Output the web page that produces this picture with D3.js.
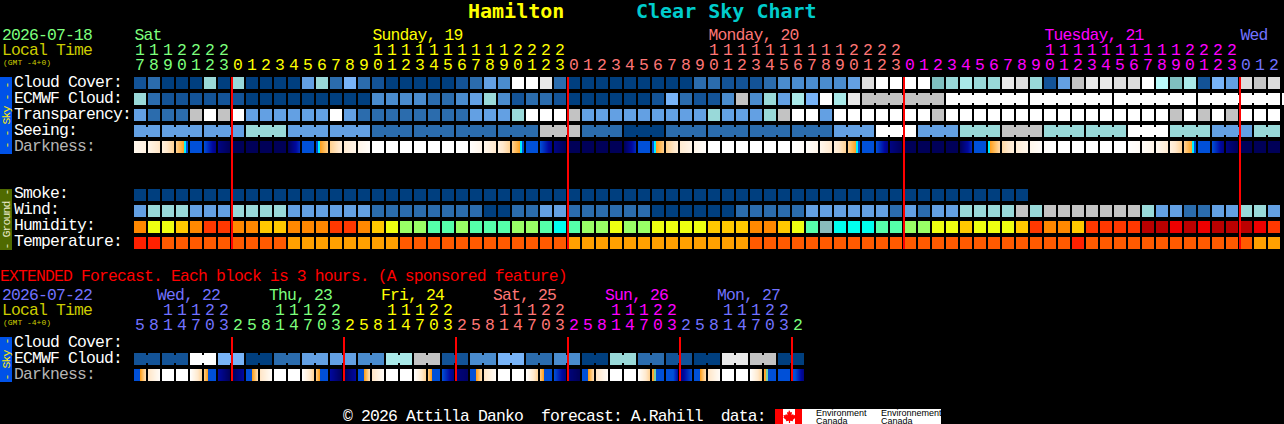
<!DOCTYPE html>
<html><head><meta charset="utf-8">
<script src="https://cdn.jsdelivr.net/npm/d3@7"></script>
<style>
html,body{margin:0;padding:0;background:#000;overflow:hidden}
svg{display:block}
text{font-family:"Liberation Mono",monospace;white-space:pre}
text.bold{font-family:"DejaVu Sans Mono",monospace;font-weight:bold}
</style></head><body>
<svg id="c" width="1284" height="424"></svg>
<script>
// ---------- data (levels) ----------
const cloudCover=[1,2,0,0,0,7,0,7,0,0,0,0,4,7,2,5,2,1,0,0,0,
 0,0,1,2,4,3,13,13,12,2,0,0,0,0,0,0,0,0,0,2,2,1,1,1,2,3,3,3,3,3,4,
 11,13,13,13,13,6,7,8,7,7,12,11,7,1,4,10,12,12,11,11,13,9,6,8,1,5,4,11,10,11];
const ecmwfCloud=[7,2,1,1,1,1,1,1,0,0,0,0,0,0,0,0,0,3,3,3,3,
 2,2,3,4,7,3,1,2,2,1,0,0,0,0,0,0,1,5,2,1,1,3,10,3,7,4,8,5,13,8,12,
 10,10,10,10,10,10,13,13,13,13,13,13,13,13,13,13,13,13,13,13,13,13,13,13,13,13,13,13,13,13,13,13];
const transparency=[4,2,2,2,10,13,10,13,4,4,4,4,4,4,13,4,2,2,2,2,2,
 2,2,2,4,4,4,7,13,13,13,10,4,4,4,4,4,4,4,4,4,7,4,4,4,7,10,13,13,4,13,13,
 13,13,13,13,13,10,13,13,13,13,13,13,13,13,13,13,13,13,13,13,13,13,10,13,10,13,10,13,13,13];
const seeingBlocks=[4,4,4,7,4,4,2,2,2,2,10,2,0,2,2,2,2,4,13,4,7,10,7,7,13,7,4,7];
const smoke=[0,0,0,0,0,0,0,0,0,0,0,0,0,0,0,0,0,0,0,0,0,0,0,0,0,0,0,0,0,0,0,0,
 0,0,0,0,0,0,0,0,0,0,0,0,0,0,0,0,0,0,0,0,0,0,0,0,0,0,0,0,0,0,0,0];
const wind=[4,7,7,7,4,4,4,7,7,7,7,4,4,4,4,4,4,2,2,2,2,
 2,2,2,2,0,0,2,2,4,4,2,2,2,2,2,2,0,0,0,0,0,0,2,2,2,2,2,4,4,4,4,
 4,4,2,4,2,4,4,7,7,7,7,10,7,10,10,10,10,10,10,10,7,4,4,2,2,4,4,7,7,4];
const humidity=[3,5,5,4,3,2,2,3,3,4,4,3,3,3,2,2,3,4,5,6,6,
 7,7,6,7,7,7,6,6,7,8,7,6,6,5,6,6,5,5,5,5,4,4,4,3,3,4,5,7,9,8,8,
 8,7,7,6,6,5,5,4,5,5,5,4,2,3,3,4,2,2,2,2,0,0,1,0,1,0,0,0,1,2];
const temperature=[0,0,1,1,1,1,1,1,1,1,1,2,2,2,2,2,2,2,2,1,1,
 1,1,1,1,1,1,1,1,1,1,2,2,2,2,2,2,2,2,2,2,2,2,2,1,1,1,1,1,1,1,1,
 1,1,1,1,1,1,1,1,1,1,1,1,1,1,1,0,1,1,1,1,1,1,1,1,1,1,1,1,2,2];
const darkness=[[.7,1.2],[.9,2.2],[1.3,3],[3,5.3],[5.3,8],[8,9.4],[9.4,10],[10,10],[10,10],[10,10],[10,10],[10,8.5],[8,5.4],[5.4,3.1],[3.1,1.6],[1.8,.9],[.9,.2],
 [0,0],[0,0],[0,0],[0,0],[0,0],[0,0],[0,0],[.1,.9],[.7,2],[1.3,3],[3,5.3],[5.3,8],[8,9.4],[9.4,10],[10,10],[10,10],[10,10],[10,10],[10,8.5],[8,5.4],[5.4,3.1],[3.1,1.6],[1.8,.9],[.9,.2],
 [0,0],[0,0],[0,0],[0,0],[0,0],[0,0],[0,.3],[.2,.9],[.7,2],[1.3,3],[3,5.3],[5.3,8],[8,9.4],[9.4,10],[10,10],[10,10],[10,10],[10,10],[10,8.5],[8,5.4],[5,2.7],[2.7,1.4],[1.6,.8],[.8,.2],
 [.2,0],[0,0],[0,0],[0,0],[0,0],[0,0],[0,.4],[.3,.9],[.6,1.8],[1.2,3],[3,5.3],[5.3,8],[8,9.4],[9.4,10],[10,10],[10,10],[10,10]];
const extEcmwfBlocks=[1,1,13,5,0,2,4,4,3,8,10,1,3,5,2,3,0,7,2,1,0,12,10,0];
const extDarkness=[[7.08,2.4],[2.2,.3],[0,0],[0,0],[0,3],[3.15,7.95],[9,10],[10,9],
 [7.08,2.4],[2.2,.3],[0,0],[0,0],[0,3],[3.15,7.95],[9,10],[10,9],
 [7.08,2.4],[2.2,.3],[0,0],[0,0],[0,3],[3.15,7.95],[8,9.5],[9.5,9.8],
 [7.08,2.4],[2.2,.3],[0,0],[0,0],[0,3],[3.15,7.95],[8,9.5],[9.5,10],
 [7.08,2.4],[2.2,.3],[0,0],[0,0],[0,3],[4.17,6.45],[6.5,9],[9.5,8],
 [7.08,2.4],[2.2,.3],[0,0],[0,0],[0,3],[4.17,6.45],[5,8],[7.5,9.5]];

const mainHours=[17,18,19,20,21,22,23,0,1,2,3,4,5,6,7,8,9,10,11,12,13,14,15,16,17,18,19,20,21,22,23,
 0,1,2,3,4,5,6,7,8,9,10,11,12,13,14,15,16,17,18,19,20,21,22,23,
 0,1,2,3,4,5,6,7,8,9,10,11,12,13,14,15,16,17,18,19,20,21,22,23,0,1,2];
const extHours=[5,8,11,14,17,20,23,2,5,8,11,14,17,20,23,2,5,8,11,14,17,20,23,2,
 5,8,11,14,17,20,23,2,5,8,11,14,17,20,23,2,5,8,11,14,17,20,23,2];
const mainDayBreaks=[7,31,55,79];
const extDayBreaks=[7,15,23,31,39,47];
const dayColors=["#7dff7d","#ffff00","#ff7676","#ff00ff","#7272ff"];
const extDayColors=["#7272ff","#7dff7d","#ffff00","#ff7676","#ff00ff","#7272ff","#7dff7d"];
const mainDayLabels=[["Sat",0],["Sunday, 19",17],["Monday, 20",41],["Tuesday, 21",65],["Wed",79]];
const extDayLabels=["Wed, 22","Thu, 23","Fri, 24","Sat, 25","Sun, 26","Mon, 27"];
const mainRows=["Cloud Cover:","ECMWF Cloud:","Transparency:","Seeing:","Darkness:"];
const groundRows=["Smoke:","Wind:","Humidity:","Temperature:"];
const extRows=["Cloud Cover:","ECMWF Cloud:","Darkness:"];

// ---------- scales ----------
const N=82, PITCH=14, CELL=12;
const x=d3.scaleLinear().domain([0,N]).range([134,134+PITCH*N]);
const skyColor=d3.scaleOrdinal(d3.range(14),["#003f7f","#135397","#2b6cad","#4a8cce","#63a0e3","#78b4f8","#7fbfbf","#99d9d9","#a9e9e9","#b9fbfb","#c3c3c3","#dddddd","#e9e9e9","#ffffff"]);
const humColor=d3.scaleOrdinal(d3.range(10),["#bb0000","#ee0000","#ff3800","#ff8800","#ffc800","#eeff11","#99ff66","#55ffaa","#00ffee","#88bbbb"]);
const tempColor=d3.scaleOrdinal([0,1,2],["#ff2000","#ff5a00","#ffa000"]);
const darkDomain=[0,1,2,3,4,4.555,4.56,4.93,4.934,8,9,10];
const darkRange=c=>["#ffffff","#fff4e6","#ffe8cc","#ffd294","#ffb347","#ffa020",c,c,"#0050d8","#0050d8","#0008a0","#000058"];
const darkColor=d3.scaleLinear().domain(darkDomain).range(darkRange("#00f0ff")).clamp(true);
const extDarkColor=d3.scaleLinear().domain(darkDomain).range(darkRange("#78d0a0")).clamp(true);

const svg=d3.select("#c");
svg.append("rect").attr("width",1284).attr("height",424).attr("fill","#000");

function label(t,px,py,col,size,cls){
  const s=svg.append("text").attr("x",px).attr("y",py).attr("fill",col).attr("xml:space","preserve").text(t);
  if(cls) s.attr("class",cls);
  if(size) s.attr("font-size",size);
  else s.attr("font-size",16.4).attr("letter-spacing","-0.84");
  return s;
}
function row(vals,top,color,bridge){
  const g=svg.append("g").attr("shape-rendering","crispEdges");
  g.selectAll(".c").data(vals).join("rect").attr("class","c")
    .attr("x",(d,i)=>x(i)).attr("y",top).attr("width",CELL).attr("height",CELL).attr("fill",d=>color(d));
  if(bridge){
    const pts=d3.range(vals.length-1).filter(bridge);
    g.selectAll(".b").data(pts).join("rect").attr("class","b")
      .attr("x",i=>x(i)+CELL).attr("y",top+2).attr("width",PITCH-CELL).attr("height",CELL-4).attr("fill",i=>color(vals[i]));
  }
}
function darkRow(vals,top,scale){
  const g=svg.append("g").attr("shape-rendering","crispEdges");
  vals.forEach((p,i)=>{
    g.selectAll(null).data(d3.range(CELL)).join("rect")
      .attr("x",k=>x(i)+k).attr("y",top).attr("width",1).attr("height",CELL)
      .attr("fill",k=>scale(p[0]+(p[1]-p[0])*(k+.5)/CELL));
  });
}
function sideBar(top,h,fill,txtCol,t){
  svg.append("rect").attr("x",0).attr("y",top).attr("width",12).attr("height",h).attr("fill",fill).attr("shape-rendering","crispEdges");
  svg.append("text").attr("transform",`translate(9.5,${top+h/2}) rotate(-90)`).attr("text-anchor","middle")
    .attr("fill",txtCol).attr("font-size",11.5).attr("letter-spacing","-0.9").attr("xml:space","preserve").text(t);
}
function hourLabels(hours,breaks,colors,yTens,yUnits){
  const colOf=i=>colors[d3.bisectRight(breaks,i)];
  hours.forEach((h,i)=>{
    if(h>=10) label(String(Math.floor(h/10)),x(i)+1,yTens,colOf(i));
    label(String(h%10),x(i)+1,yUnits,colOf(i));
  });
}
function redLines(cols,top,bottom){
  svg.append("g").attr("shape-rendering","crispEdges").selectAll("rect").data(cols).join("rect")
    .attr("x",c=>x(c)-1).attr("y",top).attr("width",2).attr("height",bottom-top).attr("fill","#ff0000");
}

// ---------- title ----------
label("Hamilton",468,18,"#ffff00",20,"bold");
label("Clear Sky Chart",636,18,"#00cccc",20,"bold");

// ---------- main header ----------
label("2026-07-18",2,40,dayColors[0]);
label("Local Time",2,55,"#cccc00");
label("(GMT -4+0)",3,65,"#cccc00",8);
mainDayLabels.forEach(([t,c])=>label(t,x(c)+.5,40,dayColors[d3.bisectRight(mainDayBreaks,c)]));
hourLabels(mainHours,mainDayBreaks,dayColors,55,70);

// ---------- main rows ----------
const seeing=d3.range(N).map(i=>seeingBlocks[Math.floor((i+1)/3)]);
row(cloudCover,77,skyColor);
row(ecmwfCloud,93,skyColor,i=>i>=52&&(i-52)%6!==5);
row(transparency,109,skyColor);
row(seeing,125,skyColor,i=>(i+2)%3!==0);
darkRow(darkness,141,darkColor);
sideBar(77,77,"#0052e8","#ffee00","- - Sky - -");
mainRows.forEach((t,i)=>label(t,14,87+16*i,i===4?"#b4b4b4":"#ffffff"));

// ---------- ground rows ----------
row(smoke,189,skyColor);
row(wind,205,skyColor);
row(humidity,221,humColor);
row(temperature,237,tempColor);
sideBar(189,61,"#4f6a00","#e8e8c8","- Ground -");
groundRows.forEach((t,i)=>label(t,14,198+16*i,"#ffffff"));
redLines(mainDayBreaks,77,249);

// ---------- extended ----------
label("EXTENDED Forecast. Each block is 3 hours. (A sponsored feature)",0,281,"#ff0000");
label("2026-07-22",2,300,extDayColors[0]);
label("Local Time",2,315,"#cccc00");
label("(GMT -4+0)",3,325,"#cccc00",8);
extDayLabels.forEach((t,i)=>label(t,x(1+8*i)+9,300,extDayColors[i]));
hourLabels(extHours,extDayBreaks,extDayColors,315,330);

const extEcmwf=d3.range(48).map(i=>extEcmwfBlocks[Math.floor(i/2)]);
row(extEcmwf,353,skyColor,i=>i%2===0);
darkRow(extDarkness,369,extDarkColor);
sideBar(337,45,"#0052e8","#ffee00","- Sky -");
extRows.forEach((t,i)=>label(t,14,347+16*i,i===2?"#b4b4b4":"#ffffff"));
redLines(extDayBreaks,337,381);

// ---------- footer ----------
label("© 2026 Attilla Danko  forecast: A.Rahill  data:",343,420.5,"#ffffff");
const logo=svg.append("g");
logo.append("rect").attr("x",775).attr("y",409).attr("width",166).attr("height",15).attr("fill","#fff");
logo.append("rect").attr("x",775).attr("y",409).attr("width",8).attr("height",15).attr("fill","#f00");
logo.append("rect").attr("x",795).attr("y",409).attr("width",7).attr("height",15).attr("fill","#f00");
logo.append("path").attr("fill","#f00").attr("d","M789 410l1.6 2.6 1.4-.6-.5 3.2 1.6-1.2.5 1.2 2-.2-.6 2 .8.6-3 2.4.3 1.2-3-.4v2.2h-1.2v-2.2l-3 .4.3-1.2-3-2.4.8-.6-.6-2 2 .2.5-1.2 1.6 1.2-.5-3.2 1.4.6z");
[["Environment",816],["Environnement",881]].forEach(([t,px])=>{
  logo.append("text").attr("x",px).attr("y",416).attr("fill","#000").attr("font-size",9).style("font-family","'Liberation Sans',sans-serif").text(t);
  logo.append("text").attr("x",px).attr("y",423.5).attr("fill","#000").attr("font-size",9).style("font-family","'Liberation Sans',sans-serif").text("Canada");
});
</script></body></html>
